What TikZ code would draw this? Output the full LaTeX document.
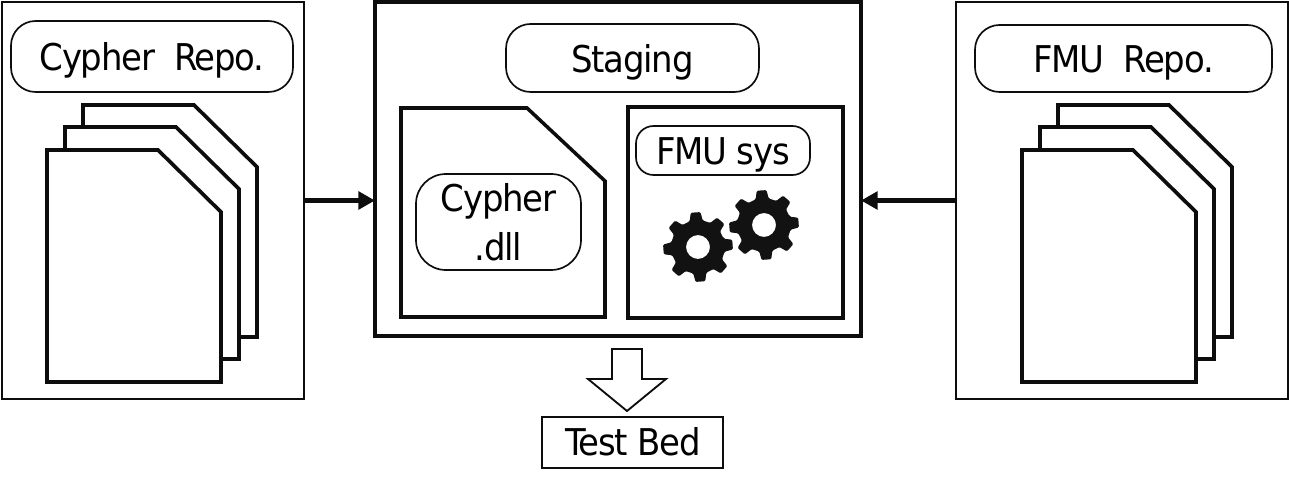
\documentclass[tikz,border=0pt]{standalone}
\usepackage{fontspec}
\setmainfont[FakeStretch=0.92,LetterSpace=-3.4]{DejaVu Sans}
\usetikzlibrary{arrows.meta}

\begin{document}
\begin{tikzpicture}[x=0.02cm,y=-0.02cm,
  frame/.style={draw=black!95,line width=0.85pt,fill=white,anchor=north west,inner sep=0pt,outer sep=0pt},
  heavy/.style={frame,line width=2.2pt},
  pill/.style={draw=black!95,line width=0.95pt,fill=white,rounded corners=14pt,align=center,
    inner sep=0pt,outer sep=0pt,text height=16pt,text depth=0pt,font=\fontsize{21}{28}\selectfont},
  sheet/.style={draw=black!95,line width=2.1pt,fill=white,line join=miter},
  feed/.style={draw=black!95,line width=2.4pt,-{Triangle[length=9.5pt,width=10pt]}},
  gearwheel/.pic={
    \fill[black!93,even odd rule,rounded corners=0.7pt]
      (-4-14:27) \foreach \a in {-4,41,...,311} { -- (\a-14:27) -- (\a-8:35) -- (\a+8:35) -- (\a+14:27) }
      -- cycle (0,0) circle (12);
  }]
  \useasboundingbox (0,0) rectangle (1289,489);

  % outer boxes
  \node[frame,minimum width=302*0.02cm,minimum height=397*0.02cm] (cypherrepo) at (2,2) {};
  \node[frame,minimum width=332*0.02cm,minimum height=397*0.02cm] (fmurepo) at (956,2) {};
  \node[heavy,minimum width=486*0.02cm,minimum height=334*0.02cm] (staging) at (375,2) {};

  % paper stacks
  \foreach \x/\y in {83/105,65/127,47/150} \draw[sheet] (\x,\y) -- ++(111,0) -- ++(63,62)
    -- ++(0,170) -- ++(-174,0) -- cycle;
  \foreach \x/\y in {1058/105,1040/127,1022/150} \draw[sheet] (\x,\y) -- ++(111,0) -- ++(63,62)
    -- ++(0,170) -- ++(-174,0) -- cycle;

  % titles
  \node[pill,minimum width=282*0.02cm,minimum height=71*0.02cm] (cyphertitle) at (152,56.5) {Cypher\ \ Repo.};
  \node[pill,minimum width=297*0.02cm,minimum height=67*0.02cm] (fmutitle) at (1123.5,58.5) {FMU\ \ Repo.};
  \node[pill,minimum width=253*0.02cm,minimum height=68*0.02cm] (stagetitle) at (632.5,58) {Staging};

  % staging content
  \draw[sheet,line width=2pt] (401,108) -- (527,108) -- (605,181) -- (605,317) -- (401,317) -- cycle;
  \node[pill,rounded corners=17pt,text height=44pt,minimum width=165*0.02cm,minimum height=96*0.02cm] (cypherdll) at (498.5,222)
    {Cypher\\.dll};
  \node[heavy,line width=2.5pt,minimum width=215*0.02cm,minimum height=211*0.02cm] (fmubox) at (628,107) {};
  \node[pill,rounded corners=10pt,minimum width=174*0.02cm,minimum height=49*0.02cm] (fmusys) at (723,150.5) {FMU sys};
  \pic at (698,247) {gearwheel};
  \pic at (764,225) {gearwheel};

  % arrows
  \draw[feed] (cypherrepo.east) -- (cypherrepo.east -| staging.west);
  \draw[feed] (fmurepo.west) -- (fmurepo.west -| staging.east);

  \node[frame,minimum width=181*0.02cm,minimum height=51*0.02cm] (testbed) at (542,417) {};
  \node[font=\fontsize{21}{25}\selectfont,inner sep=0pt] (testlabel) at (633,442) {Test Bed};
  \draw[frame,line width=1.05pt] (612,349) -- (642,349) -- (642,379) -- (666,379) -- (627,411)
    -- (588,379) -- (612,379) -- cycle;
\end{tikzpicture}
\end{document}
